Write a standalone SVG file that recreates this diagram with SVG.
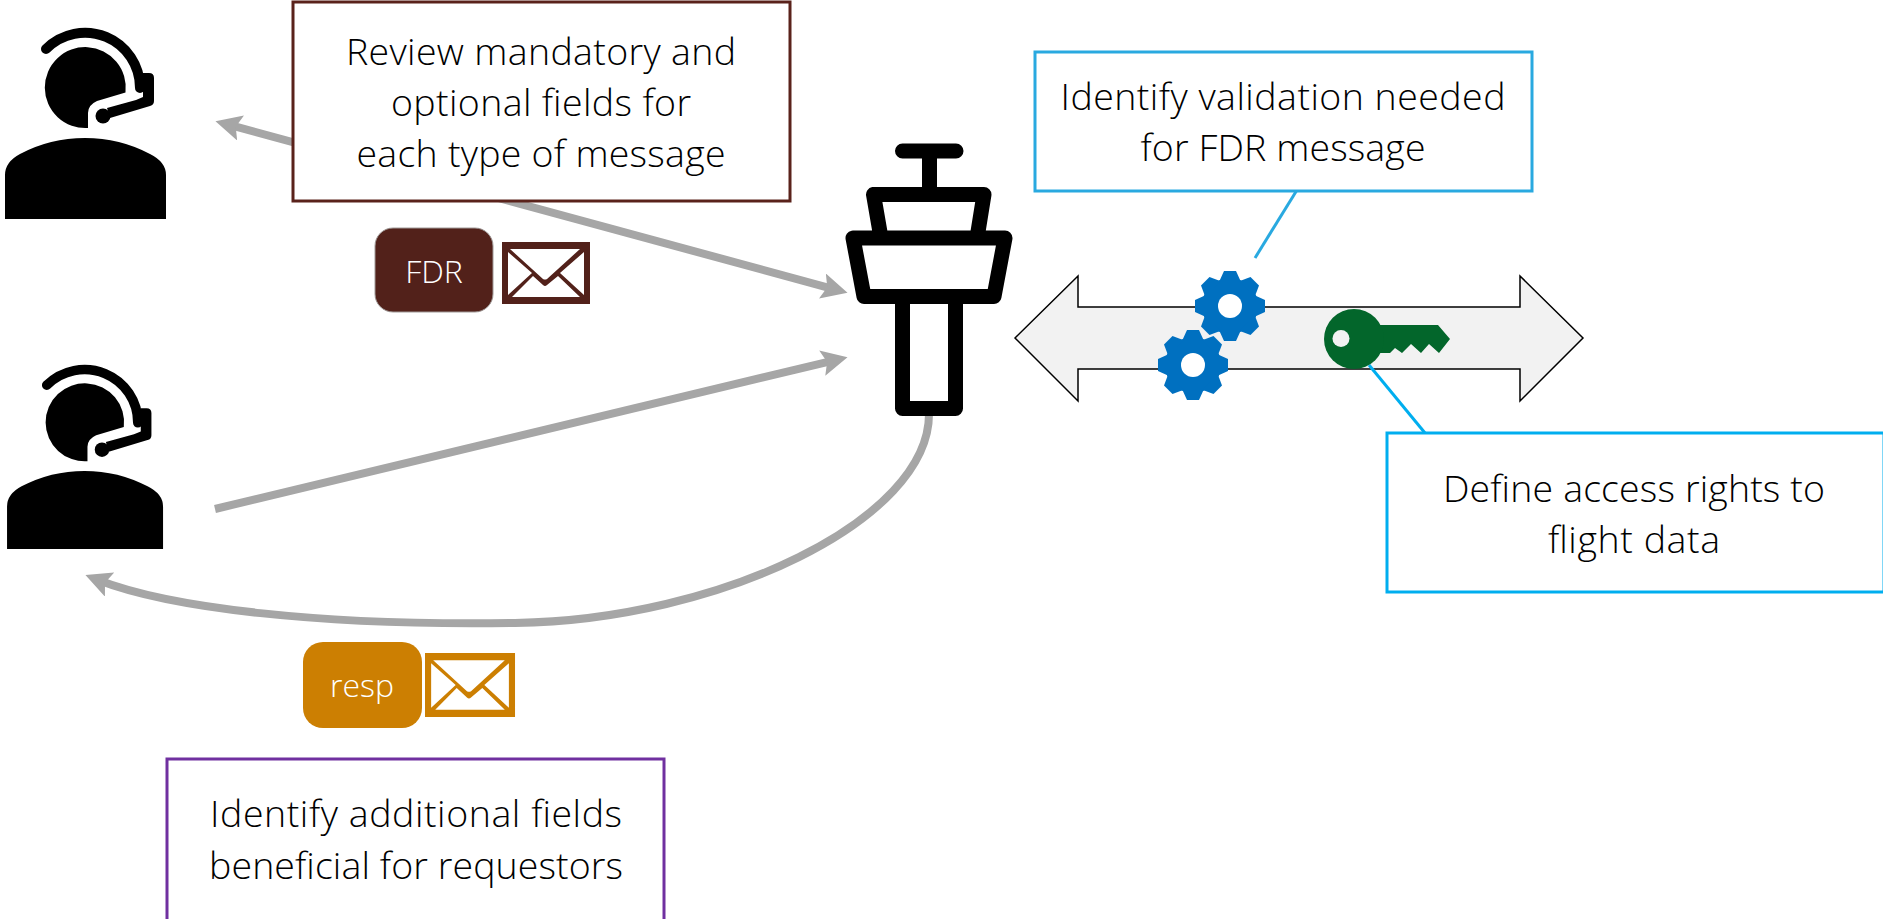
<svg xmlns="http://www.w3.org/2000/svg" xmlns:xlink="http://www.w3.org/1999/xlink" width="1883" height="919" viewBox="0 0 1883 919">
<style>
text{font-family:"Open Sans","Noto Sans","Liberation Sans",sans-serif;font-weight:300;text-anchor:middle}
.t{font-size:37.500px;fill:#000}
.b{font-size:32px;fill:#fff}
.box{fill:#fff;stroke-width:3}
.conn{fill:none;stroke:#a6a6a6;stroke-width:8}
.tw{fill:none;stroke:#000;stroke-width:15;stroke-linejoin:round;stroke-linecap:round}
.gear{fill:#0070c0}
</style>
<defs>
<marker id="ah" markerUnits="userSpaceOnUse" markerWidth="26" markerHeight="26" refX="12.500" refY="13" orient="auto-start-reverse" viewBox="0 0 26 26"><path d="M26 13L0 0L5 13L0 26Z" fill="#a6a6a6"/></marker>
<g id="person">
<path d="M88 128V113Q88 105 97 101L125.500 92.500A40.500 40.500 0 1 0 88 128Z"/>
<path d="M46 49A55 55 0 0 1 140 88" fill="none" stroke="#000" stroke-width="10" stroke-linecap="round"/>
<path d="M143 73H149Q154 73 154 78V101Q154 105 150 106L110 118L107 108L136 100L143 97Z"/>
<circle cx="103" cy="116" r="7.500"/>
<path d="M5 219V175Q5 162 20 154Q50 138 85 138Q120 138 150 154Q166 162 166 175V219Z"/>
</g>
<path id="tooth" d="M-11 -24L-6 -35H6L11 -24Z"/>
<g id="gear" class="gear">
<circle r="28"/>
<use xlink:href="#tooth" href="#tooth"/>
<use xlink:href="#tooth" href="#tooth" transform="rotate(45)"/>
<use xlink:href="#tooth" href="#tooth" transform="rotate(90)"/>
<use xlink:href="#tooth" href="#tooth" transform="rotate(135)"/>
<use xlink:href="#tooth" href="#tooth" transform="rotate(180)"/>
<use xlink:href="#tooth" href="#tooth" transform="rotate(225)"/>
<use xlink:href="#tooth" href="#tooth" transform="rotate(270)"/>
<use xlink:href="#tooth" href="#tooth" transform="rotate(315)"/>
<circle r="12" fill="#fff"/>
</g>
<path id="env" fill-rule="evenodd" d="M0 0H88V62H0ZM8 7H78L45 37Q43 38 41 37ZM6 10L30 31L6 53ZM82 10V53L58 31ZM10 55L31 34L41 43Q43 45 45 43L56 34L78 55Z"/>
</defs>

<g id="connectors">
<path class="conn" d="M228.500 124.700L834.500 289.300" marker-start="url(#ah)" marker-end="url(#ah)"/>
<path class="conn" d="M215 509L834.400 360.300" marker-end="url(#ah)"/>
<path class="conn" d="M929 414C929 520 720 620 515 623C320 626 170 608 98 580" marker-end="url(#ah)"/>
</g>

<g id="person-1"><use xlink:href="#person" href="#person"/></g>
<g id="person-2"><use xlink:href="#person" href="#person" transform="translate(2.200 338) scale(.969 .963)"/></g>

<g id="tower">
<path class="tw" d="M902.500 151H956M929.500 151V194.500M881 238L873.500 194.500H984L977 238M853 238H1005L994 296.500H864ZM902.500 296.500V408.500H955.500V296.500"/>
</g>

<g id="data-arrow">
<path d="M1015 338L1078 276V307H1520V276L1583 338L1520 401V369H1078V401Z" fill="#f2f2f2" stroke="#000" stroke-width="1.500"/>
</g>

<g id="line-validation"><path d="M1297 190L1255 258" stroke="#29a9e0" stroke-width="3" fill="none"/></g>
<g id="line-access"><path d="M1369 365L1425 433" stroke="#00aeef" stroke-width="3" fill="none"/></g>

<g id="gear-1"><use xlink:href="#gear" href="#gear" x="1230" y="306"/></g>
<g id="gear-2"><use xlink:href="#gear" href="#gear" x="1193" y="365"/></g>

<g id="key">
<path fill="#03662b" d="M1380 325H1438L1450 339L1439 353L1429 344L1421 353L1411 344L1402 353L1395 348L1390 353H1375Z"/>
<circle cx="1354" cy="339" r="30" fill="#03662b"/>
<circle cx="1341" cy="338.500" r="8.500" fill="#f2f2f2"/>
</g>

<g id="box-review">
<rect class="box" x="293" y="2" width="497" height="199" stroke="#5a221b"/>
<text class="t" x="541" y="65" textLength="390">Review mandatory and</text>
<text class="t" x="541" y="116" textLength="300">optional fields for</text>
<text class="t" x="541" y="167" textLength="369">each type of message</text>
</g>

<g id="box-validation">
<rect class="box" x="1035" y="52" width="497" height="139" stroke="#29a9e0"/>
<text class="t" x="1283" y="110" textLength="445">Identify validation needed</text>
<text class="t" x="1283" y="161" textLength="285">for FDR message</text>
</g>

<g id="box-access">
<rect class="box" x="1387" y="433" width="497" height="159" stroke="#00aeef"/>
<text class="t" x="1634" y="502" textLength="382">Define access rights to</text>
<text class="t" x="1634" y="553" textLength="172">flight data</text>
</g>

<g id="box-additional">
<rect class="box" x="167" y="759" width="497" height="162" stroke="#7030a0"/>
<text class="t" x="416" y="827" textLength="412">Identify additional fields</text>
<text class="t" x="416" y="879" textLength="414">beneficial for requestors</text>
</g>

<g id="badge-fdr">
<rect x="375" y="228" width="118" height="84" rx="18" fill="#52211a" stroke="#a09a98" stroke-width="1"/>
<text class="b" x="434" y="283">FDR</text>
</g>
<g id="envelope-fdr"><use xlink:href="#env" href="#env" x="502" y="242" fill="#52211a"/></g>

<g id="badge-resp">
<rect x="303" y="642" width="119" height="86" rx="20" fill="#cc7f02"/>
<text class="b" x="362" y="697">resp</text>
</g>
<g id="envelope-resp"><use xlink:href="#env" href="#env" transform="translate(425 653) scale(1.023 1.032)" fill="#cc7f02"/></g>
</svg>
